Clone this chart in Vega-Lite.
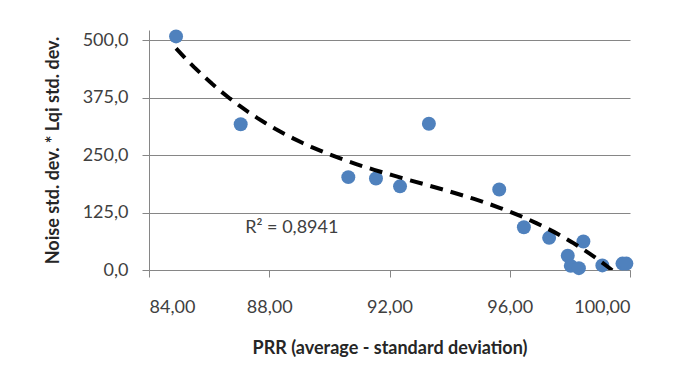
{
  "$schema": "https://vega.github.io/schema/vega-lite/v6.json",
  "width": 481,
  "height": 240,
  "autosize": "none",
  "padding": {"left": 149, "top": 30, "right": 59, "bottom": 119},
  "background": "white",
  "config": {
    "font": "Lato",
    "view": {"stroke": null},
    "axis": {
      "labelFont": "Lato",
      "labelFontSize": 18,
      "labelColor": "#404040",
      "titleFont": "Lato",
      "titleFontSize": 18,
      "titleFontWeight": "bold",
      "titleColor": "#262626",
      "domainColor": "#868686",
      "tickColor": "#868686",
      "gridColor": "#868686",
      "tickSize": 7
    }
  },
  "data": {
    "values": [
      {"prr": 84.90, "v": 508},
      {"prr": 87.05, "v": 317},
      {"prr": 90.63, "v": 202},
      {"prr": 91.55, "v": 199},
      {"prr": 92.35, "v": 182},
      {"prr": 93.31, "v": 318},
      {"prr": 95.65, "v": 175},
      {"prr": 96.47, "v": 93},
      {"prr": 97.31, "v": 70},
      {"prr": 97.93, "v": 31},
      {"prr": 98.03, "v": 9},
      {"prr": 98.30, "v": 4},
      {"prr": 98.45, "v": 62},
      {"prr": 99.08, "v": 10},
      {"prr": 99.75, "v": 14},
      {"prr": 99.88, "v": 14}
    ]
  },
  "layer": [
    {
      "mark": {"type": "circle", "size": 195, "color": "#4F81BD", "opacity": 1},
      "encoding": {
        "x": {
          "field": "prr", "type": "quantitative",
          "scale": {"domain": [84, 100], "nice": false, "zero": false},
          "axis": {
            "title": "PRR (average - standard deviation)",
            "values": [84, 88, 92, 96, 100],
            "grid": false,
            "labelExpr": "replace(format(datum.value, '.2f'), '.', ',')",
            "labelPadding": 21,
            "titlePadding": 23
          }
        },
        "y": {
          "field": "v", "type": "quantitative",
          "scale": {"domain": [0, 522], "nice": false},
          "axis": {
            "title": "Noise std. dev. * Lqi std. dev.",
            "values": [0, 125, 250, 375, 500],
            "grid": true,
            "labelExpr": "replace(format(datum.value, '.1f'), '.', ',')",
            "labelPadding": 14,
            "titlePadding": 20
          }
        }
      }
    },
    {
      "transform": [
        {"regression": "v", "on": "prr", "method": "poly", "order": 3}
      ],
      "mark": {"type": "line", "color": "black", "strokeWidth": 4, "strokeDash": [13, 8], "clip": true},
      "encoding": {
        "x": {"field": "prr", "type": "quantitative"},
        "y": {"field": "v", "type": "quantitative"}
      }
    },
    {
      "data": {"values": [{"label": "R² = 0,8941"}]},
      "mark": {"type": "text", "align": "left", "baseline": "middle", "fontSize": 18, "font": "Lato", "color": "#404040"},
      "encoding": {
        "text": {"field": "label"},
        "x": {"datum": 87.2},
        "y": {"datum": 92}
      }
    }
  ]
}
